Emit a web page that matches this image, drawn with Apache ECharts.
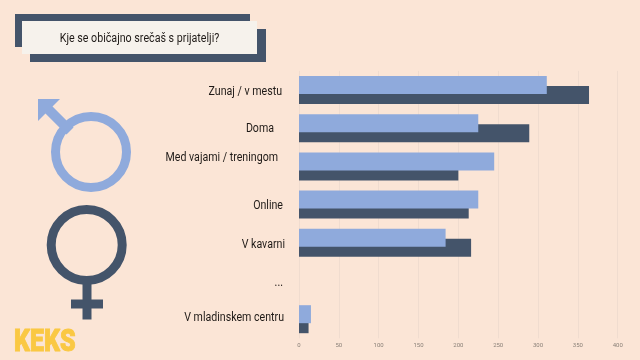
<!DOCTYPE html>
<html>
<head>
<meta charset="utf-8">
<style>
  html, body { margin: 0; padding: 0; background: #fbe5d6; }
  #main { width: 640px; height: 360px; }
</style>
<script src="https://cdn.jsdelivr.net/npm/echarts@6/dist/echarts.min.js"></script>
</head>
<body>
<div id="main"></div>
<script>
const titleText = 'Kje se običajno srečaš s prijatelji?'
const categories = ['Zunaj / v mestu', 'Doma', 'Med vajami / treningom', 'Online', 'V kavarni', '...', 'V mladinskem centru']
const maleValues = [311, 225, 245, 225, 184, null, 15]
const femaleValues = [364, 289, 200, 213, 216, null, 12]

// the labels sit by hand in the original, not on the band centres
const labelRight = [282, 274, 278, 283, 285, 283, 284]
const labelMiddle = [92, 128.5, 157.5, 206, 245, 283, 317.5]

const DARK = '#44546a'
const LIGHT = '#8faadc'
const narrow = 0.885

const catLabels = categories.map((name, i) => ({
  type: 'text',
  x: labelRight[i],
  y: labelMiddle[i],
  scaleX: narrow,
  style: {
    text: name,
    textAlign: 'right',
    textVerticalAlign: 'middle',
    font: '12px Roboto',
    fill: '#1f1a17'
  }
}))

const chart = echarts.init(document.getElementById('main'))
chart.setOption({
  animation: false,
  backgroundColor: '#fbe5d6',
  grid: {left: 299, right: 22.3, top: 70.9, height: 267.4},
  xAxis: {
    type: 'value',
    min: 0,
    max: 400,
    interval: 50,
    axisLine: {show: false},
    axisTick: {show: false},
    axisLabel: {fontSize: 6, color: '#8a8078', fontFamily: 'Roboto', margin: 4},
    splitLine: {lineStyle: {color: '#f0dccf', width: 1}}
  },
  yAxis: {
    type: 'category',
    inverse: true,
    data: categories,
    axisLine: {show: false},
    axisTick: {show: false},
    axisLabel: {show: false}
  },
  series: [
    {type: 'bar', name: 'M', data: maleValues, barWidth: 18, barGap: '-44.4%', z: 3, itemStyle: {color: LIGHT}},
    {type: 'bar', name: 'Z', data: femaleValues, barWidth: 18, z: 2, itemStyle: {color: DARK}}
  ],
  graphic: [
    // title plate
    {type: 'rect', shape: {x: 15, y: 14, width: 235, height: 33}, style: {fill: DARK}},
    {type: 'rect', shape: {x: 30, y: 29, width: 236, height: 33}, style: {fill: DARK}},
    {type: 'rect', shape: {x: 22, y: 21, width: 235, height: 33}, style: {fill: '#f6f2ec'}},
    {
      type: 'text', x: 139.5, y: 38.5, scaleX: 0.89,
      style: {text: titleText, textAlign: 'center', textVerticalAlign: 'middle', font: '12px Roboto', fill: '#1f1a17'}
    },
    // male symbol
    {type: 'circle', shape: {cx: 91, cy: 152, r: 35.5}, style: {fill: 'none', stroke: LIGHT, lineWidth: 9}},
    {type: 'line', shape: {x1: 46, y1: 107, x2: 70, y2: 131}, style: {stroke: LIGHT, lineWidth: 10}},
    {type: 'polygon', shape: {points: [[38, 99], [60, 99], [38, 121]]}, style: {fill: LIGHT}},
    // female symbol
    {type: 'circle', shape: {cx: 86.7, cy: 245, r: 35.5}, style: {fill: 'none', stroke: DARK, lineWidth: 9}},
    {type: 'rect', shape: {x: 82.5, y: 284, width: 9, height: 35.5}, style: {fill: DARK}},
    {type: 'rect', shape: {x: 71, y: 299.5, width: 32, height: 9}, style: {fill: DARK}},
    // logo
    {
      type: 'text', x: 14, y: 343, scaleX: 0.78,
      style: {text: 'KEKS', textAlign: 'left', textVerticalAlign: 'middle', font: '900 32px Roboto', fill: '#fac843', stroke: '#fac843', lineWidth: 1}
    },
    ...catLabels
  ]
})
</script>
</body>
</html>
